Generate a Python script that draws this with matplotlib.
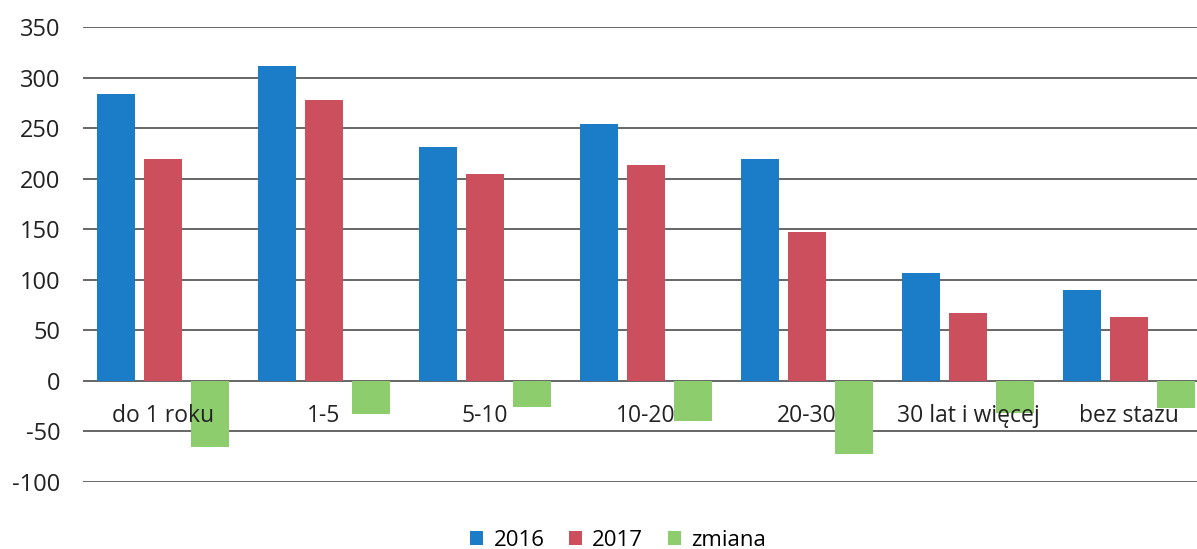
import numpy as np
import matplotlib
matplotlib.use("Agg")
import matplotlib.pyplot as plt

categories = ["do 1 roku", "1-5", "5-10", "10-20", "20-30", "30 lat i więcej", "bez stazu"]
y2016 = [284, 311, 231, 254, 219, 107, 90]
y2017 = [219, 278, 205, 214, 147, 67, 63]
zmiana = [-65, -33, -26, -40, -72, -32, -27]
yticks = [-100, -50, 0, 50, 100, 150, 200, 250, 300, 350]

BLUE, RED, GREEN, GRID = "#1b7dc7", "#cc4f5d", "#8ecd6d", "#5a5a5a"
plt.rcParams["font.family"] = ["Open Sans", "DejaVu Sans"]

fig = plt.figure(figsize=(11.97, 5.49), dpi=100, facecolor="white")
ax = fig.add_axes([82.5 / 1197, 1 - 482 / 549, 1 - 82.5 / 1197, (482 - 27) / 549])

x = np.arange(len(categories))
w = 0.236
ax.bar(x - 0.295, y2016, width=w, color=BLUE, label="2016", zorder=2)
ax.bar(x, y2017, width=w, color=RED, label="2017", zorder=2)
ax.bar(x + 0.29, zmiana, width=w, color=GREEN, label="zmiana", zorder=2)

ax.set_xlim(-0.5, -0.5 + (1197 - 82.5) / 161)
ax.set_ylim(-100, 350)
ax.set_yticks(yticks)
ax.set_yticklabels([str(t) for t in yticks], fontsize=17, color="#222222")
ax.set_xticks([])
ax.tick_params(axis="y", length=0, pad=16)
ax.yaxis.grid(True, color=GRID, lw=1.3, zorder=0)
ax.set_axisbelow(True)
for s in ax.spines.values():
    s.set_visible(False)

for i, name in enumerate(categories):
    ax.text(i, -35, name, ha="center", va="center", fontsize=16.5, color="#222222", zorder=3)

fig.legend(loc="center", bbox_to_anchor=(618 / 1197, 1 - 540 / 549), ncol=3, frameon=False,
           fontsize=16, handlelength=0.6, handleheight=0.6, handletextpad=0.45, columnspacing=1.1)

fig.savefig("out.png", dpi=100, facecolor="white")
